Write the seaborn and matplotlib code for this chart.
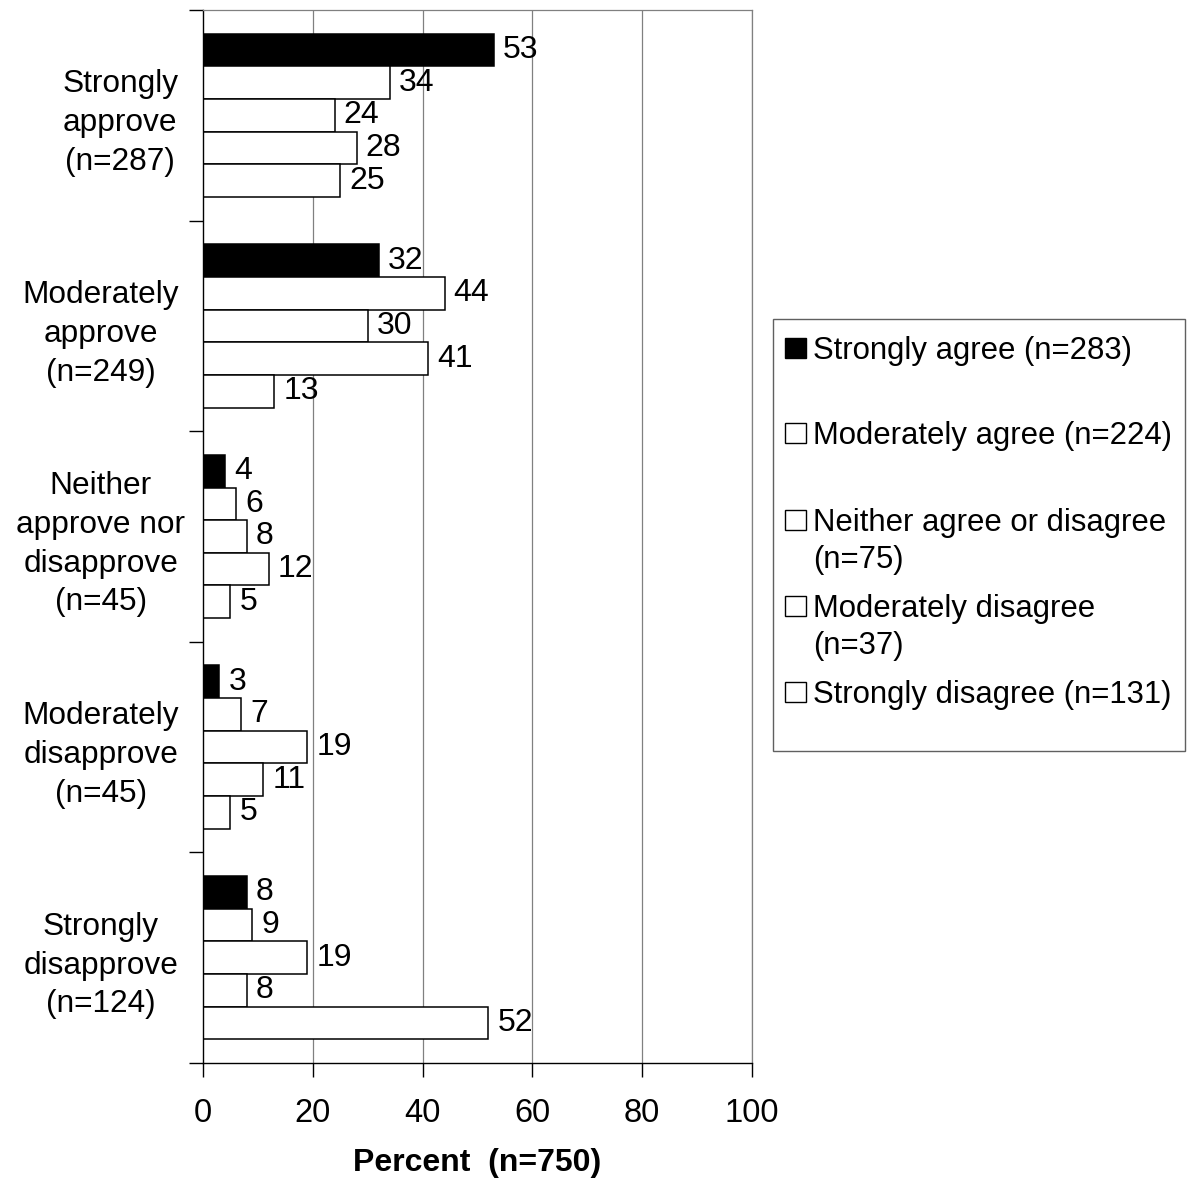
import matplotlib
matplotlib.use("Agg")
import matplotlib.pyplot as plt
from matplotlib.patches import Rectangle
import seaborn as sns
import pandas as pd

# Approval of the programme (rows) broken down by agreement with the statement (series)
categories = [
    "Strongly\napprove\n(n=287)",
    "Moderately\napprove\n(n=249)",
    "Neither\napprove nor\ndisapprove\n(n=45)",
    "Moderately\ndisapprove\n(n=45)",
    "Strongly\ndisapprove\n(n=124)",
]
series = [
    "Strongly agree (n=283)",
    "Moderately agree (n=224)",
    "Neither agree or disagree\n(n=75)",
    "Moderately disagree\n(n=37)",
    "Strongly disagree (n=131)",
]
strongly_agree = [53, 32, 4, 3, 8]
moderately_agree = [34, 44, 6, 7, 9]
neither_agree = [24, 30, 8, 19, 19]
moderately_disagree = [28, 41, 12, 11, 8]
strongly_disagree = [25, 13, 5, 5, 52]
x_ticks = [0, 20, 40, 60, 80, 100]
x_label = "Percent  (n=750)"

series_colors = ["black", "white", "white", "white", "white"]

values = [strongly_agree, moderately_agree, neither_agree,
          moderately_disagree, strongly_disagree]
rows = []
for name, vals in zip(series, values):
    for cat, v in zip(categories, vals):
        rows.append({"category": cat, "series": name, "percent": v})
df = pd.DataFrame(rows)

sns.set_theme(style="white")
plt.rcParams["font.family"] = ["Liberation Sans", "DejaVu Sans"]
plt.rcParams.update({
    "text.color": "black",
    "axes.labelcolor": "black",
    "xtick.color": "black",
    "ytick.color": "black",
})

W, H, DPI = 1190, 1181, 100
fig = plt.figure(figsize=(W / DPI, H / DPI), dpi=DPI)
fig.patch.set_facecolor("white")
ax = fig.add_axes([203 / W, 1 - 1063 / H, (752 - 203) / W, (1063 - 10) / H])

sns.barplot(
    data=df, x="percent", y="category", hue="series", orient="h",
    palette=series_colors, edgecolor="black", linewidth=1.1,
    width=0.775, dodge=True, legend=False, ax=ax,
    order=categories, hue_order=series,
)

for container in ax.containers:
    ax.bar_label(container, labels=[f"{v:g}" for v in container.datavalues],
                 padding=6.5, fontsize=23, color="black")

ax.set_xlim(0, 100)
ax.set_xticks(x_ticks)
ax.set_ylim(len(categories) - 0.5, -0.5)

# vertical gridlines
ax.grid(False)
for xv in x_ticks[1:]:
    ax.axvline(xv, color="#808080", linewidth=0.9, zorder=0)

for side in ["top", "right"]:
    ax.spines[side].set_color("#808080")
    ax.spines[side].set_linewidth(0.9)
for side in ["left", "bottom"]:
    ax.spines[side].set_color("black")
    ax.spines[side].set_linewidth(1.0)

# category boundary ticks on the y axis
ax.set_yticks([i - 0.5 for i in range(len(categories) + 1)], minor=True)
ax.tick_params(axis="y", which="minor", direction="out", length=10, width=1.0,
               color="black", left=True)
ax.tick_params(axis="y", which="major", length=0, pad=73.5, labelsize=22.8)
ylabels = ax.get_yticklabels()
for lbl in ylabels:
    lbl.set_ha("center")
    lbl.set_multialignment("center")
    lbl.set_linespacing(1.38)
    lbl.set_color("black")
ylabels[0].set_x(0.035)

ax.tick_params(axis="x", which="major", direction="out", length=10, width=1.0,
               color="black", bottom=True, pad=15, labelsize=23.5)
for lbl in ax.get_xticklabels():
    lbl.set_color("black")

ax.set_ylabel("")
ax.set_xlabel(x_label, fontsize=23, fontweight="bold", labelpad=14, color="black")

# legend box
def fx(px):
    return px / W

def fy(py):
    return 1 - py / H

legend_size = 22.4
cap_px = 0.716 * legend_size * DPI / 72
line_px = 37
fig.add_artist(Rectangle((fx(773), fy(751)), fx(1185) - fx(773), fy(319) - fy(751),
                         transform=fig.transFigure, facecolor="white",
                         edgecolor="#606060", linewidth=1.0))
entry_y = [348, 433, 520, 606, 692]
for name, color, yc in zip(series, series_colors, entry_y):
    fig.add_artist(Rectangle((fx(785), fy(yc + 10)), fx(806) - fx(785), fy(yc - 10) - fy(yc + 10),
                             transform=fig.transFigure, facecolor=color,
                             edgecolor="black", linewidth=1.0))
    n_lines = name.count("\n") + 1
    base = yc + cap_px / 2 + (n_lines - 1) * line_px
    fig.text(fx(813), fy(base), name, ha="left", va="baseline",
             fontsize=legend_size, linespacing=1.33, color="black")

fig.savefig("out.png", dpi=DPI, facecolor="white")
